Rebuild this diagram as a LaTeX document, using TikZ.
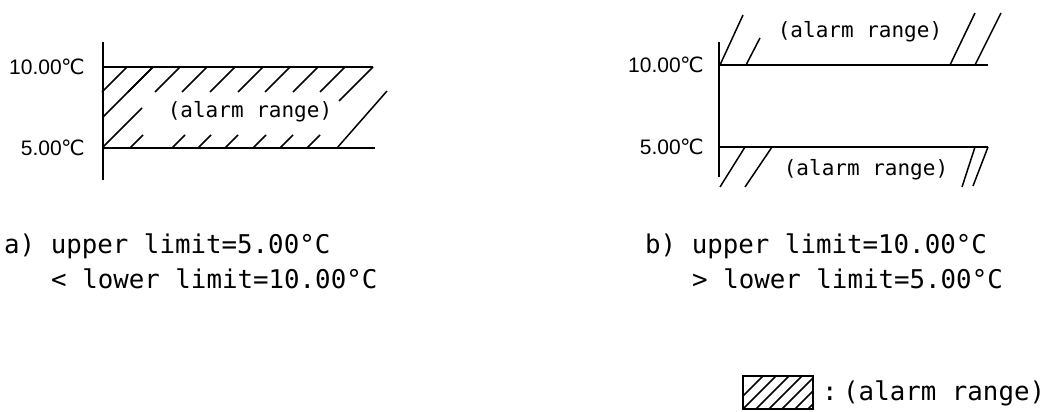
\documentclass[tikz,border=0pt]{standalone}
\usepackage{fontspec}
\newfontfamily\monofont{DejaVu Sans Mono}
\newfontfamily\labfont{Liberation Sans}
\newfontfamily\symfont{DejaVu Sans}
\newcommand{\degC}{{\symfont\kern-0.5pt ℃}}
\tikzset{
  axisline/.style={line width=1.6pt},
  limline/.style={line width=2pt},
  hatchline/.style={line width=1.5pt},
  templabel/.style={inner sep=0pt, anchor=east, font=\fontsize{21}{24}\labfont},
  rangelabel/.style={inner sep=0pt, font=\fontsize{21}{24}\monofont},
  bodytext/.style={inner sep=0pt, anchor=base west, font=\fontsize{25.8}{30}\monofont},
}
\begin{document}
\begin{tikzpicture}[x=1pt,y=-1pt]
\useasboundingbox (0,0) rectangle (1052,412);

% ---------- (a) left diagram ----------
\coordinate (aAxT) at (103,42);
\coordinate (aAxB) at (103,180);
\coordinate (aUL) at (103,67);
\coordinate (aUR) at (373,67);
\coordinate (aLL) at (103,148);
\coordinate (aLR) at (375,148);
\draw[axisline] (aAxT) -- (aAxB);
\draw[limline] (aUL) -- (aUR);
\draw[limline] (aLL) -- (aLR);
\node[templabel] (aT10) at (85,67) {10.00\degC};
\node[templabel] (aT5) at (85,148) {5.00\degC};
% hatching
\foreach \xt in {127,153,180,207,235,263,290,318,345}
  \draw[hatchline] (\xt,67) -- ++(-25,25);
\draw[hatchline] (153,67) -- (103,117);
\draw[hatchline] (142,108) -- (103,147);
\draw[hatchline] (373,67) -- (339,101);
\draw[hatchline] (387,91) -- (337,148);
\foreach \xb in {130,172,198,225,253,280,307}
  \draw[hatchline] (\xb,148) -- ++(13,-13);
\node[rangelabel] (aRange) at (250,112) {(alarm range)};

% ---------- (b) right diagram ----------
\coordinate (bAxT) at (719,42);
\coordinate (bAxB) at (719,177);
\coordinate (bUL) at (719,65);
\coordinate (bUR) at (988,65);
\coordinate (bLL) at (719,147);
\coordinate (bLR) at (988,147);
\draw[axisline] (bAxT) -- (bAxB);
\draw[limline] (bUL) -- (bUR);
\draw[limline] (bLL) -- (bLR);
\node[templabel] (bT10) at (704,65) {10.00\degC};
\node[templabel] (bT5) at (704,147) {5.00\degC};
\draw[hatchline] (720,65) -- (743,15);
\draw[hatchline] (746,65) -- (760,38);
\draw[hatchline] (950,65) -- (975,13);
\draw[hatchline] (975,65) -- (1001,13);
\draw[hatchline] (745,147) -- (720,187);
\draw[hatchline] (772,147) -- (745,187);
\draw[hatchline] (975,147) -- (962,187);
\draw[hatchline] (988,147) -- (973,186);
\node[rangelabel] (bRangeTop) at (860,32) {(alarm range)};
\node[rangelabel] (bRangeBot) at (866,170) {(alarm range)};

% ---------- captions ----------
\node[bodytext] (aCap1) at (4,253) {a) upper limit=5.00°C};
\node[bodytext] (aCap2) at (51,288) {< lower limit=10.00°C};
\node[bodytext] (bCap1) at (645,253) {b) upper limit=10.00°C};
\node[bodytext] (bCap2) at (692,288) {> lower limit=5.00°C};

% ---------- legend ----------
\coordinate (legNW) at (743,376);
\coordinate (legSE) at (813,409);
\begin{scope}
  \clip (legNW) rectangle (legSE);
  \foreach \k in {0,...,9}
    \draw[hatchline] (730+13*\k,409) -- ++(35,-35);
\end{scope}
\draw[line width=1.8pt] (legNW) rectangle (legSE);
\node[bodytext] (legColon) at (822,400) {:};
\node[bodytext] (legText) at (843,400) {(alarm range)};
\end{tikzpicture}
\end{document}
